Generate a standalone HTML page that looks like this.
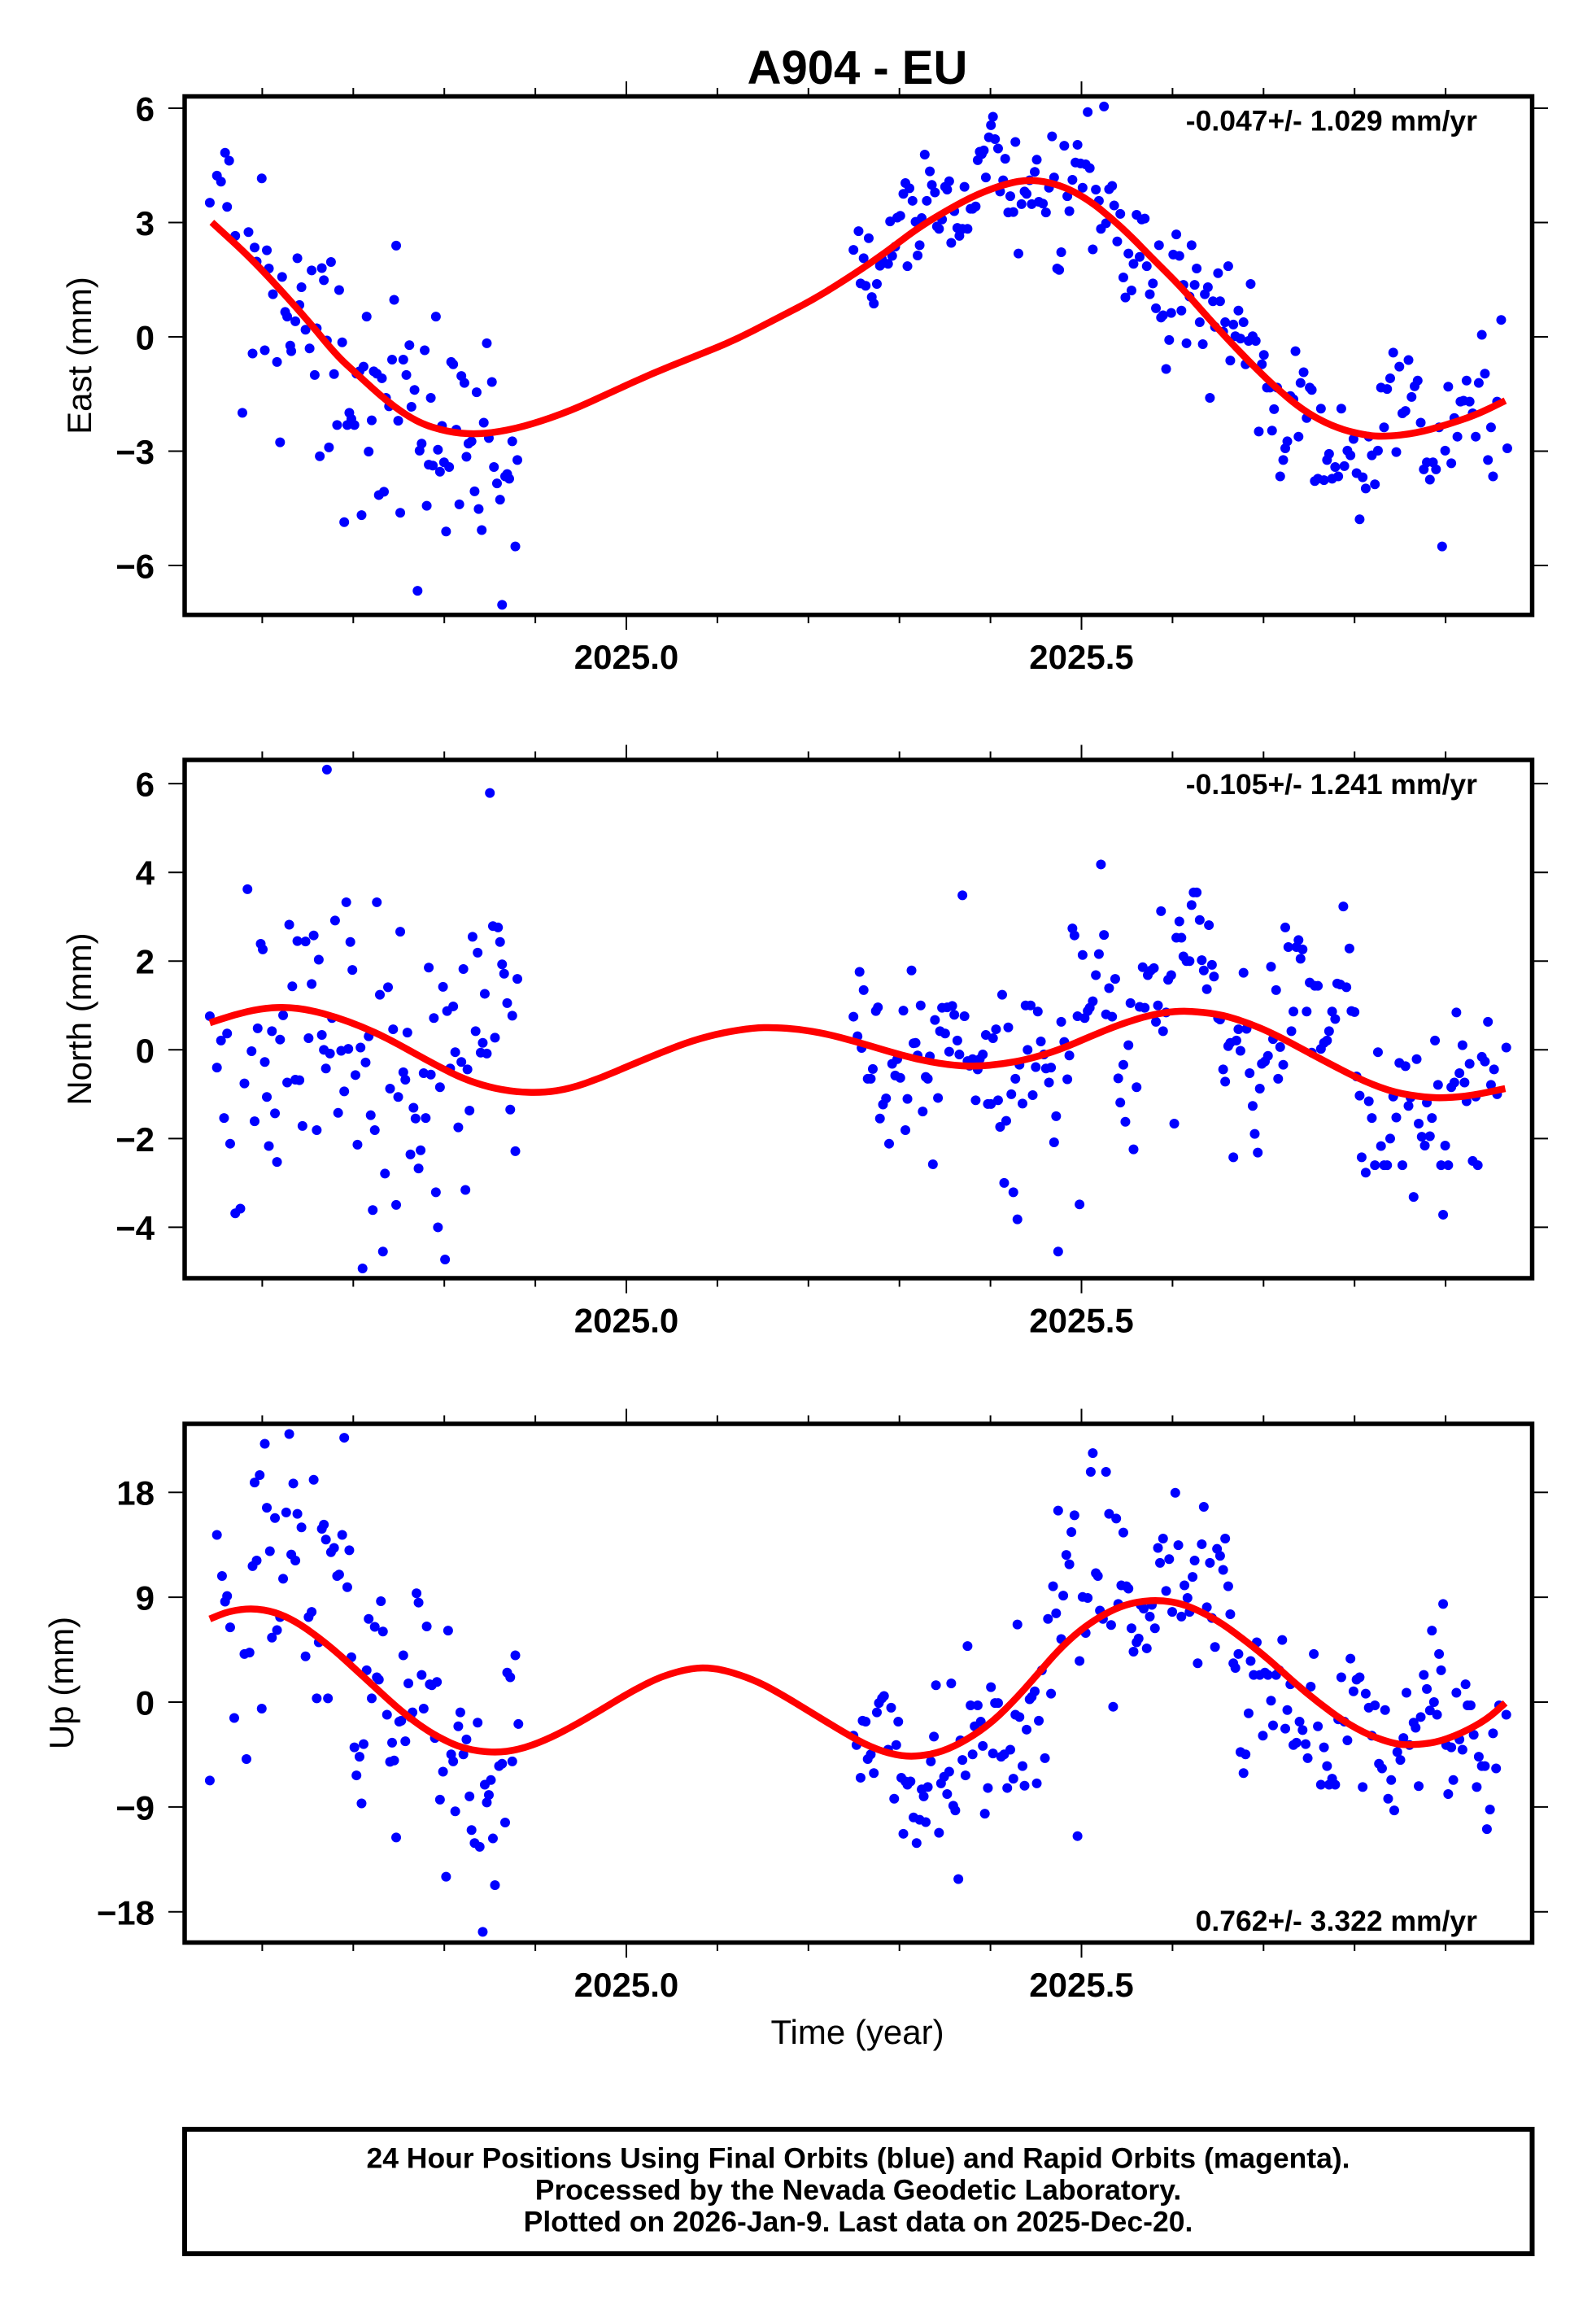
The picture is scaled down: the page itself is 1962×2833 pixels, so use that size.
<!DOCTYPE html>
<html><head><meta charset="utf-8"><style>
html,body{margin:0;padding:0;background:#fff;}
svg{display:block;}
text{font-family:"Liberation Sans",Arial,Helvetica,sans-serif;fill:#000;}
.b{font-weight:bold;}
.d ellipse{fill:#0000ff;}
.c{fill:none;stroke:#ff0000;stroke-width:8.5;stroke-linejoin:round;stroke-linecap:butt;}
</style></head><body>
<svg width="1962" height="2833" viewBox="0 0 1962 2833" xmlns="http://www.w3.org/2000/svg">
<rect width="1962" height="2833" fill="#fff"/>
<text x="1054" y="103" font-size="58" class="b" text-anchor="middle">A904 - EU</text>

<!-- PANEL 1 dots + curve -->
<g transform="matrix(1.252 0 0 0.574 0 0)" class="d">
<g>
<ellipse cx="206" cy="434" rx="4.79" ry="10.45"/><ellipse cx="213" cy="376" rx="4.79" ry="10.45"/><ellipse cx="217" cy="389" rx="4.79" ry="10.45"/><ellipse cx="221" cy="327" rx="4.79" ry="10.45"/><ellipse cx="225" cy="344" rx="4.79" ry="10.45"/><ellipse cx="223" cy="443" rx="4.79" ry="10.45"/><ellipse cx="231" cy="505" rx="4.79" ry="10.45"/><ellipse cx="238" cy="884" rx="4.79" ry="10.45"/><ellipse cx="244" cy="497" rx="4.79" ry="10.45"/><ellipse cx="248" cy="757" rx="4.79" ry="10.45"/><ellipse cx="250" cy="530" rx="4.79" ry="10.45"/><ellipse cx="252" cy="560" rx="4.79" ry="10.45"/><ellipse cx="257" cy="382" rx="4.79" ry="10.45"/><ellipse cx="260" cy="750" rx="4.79" ry="10.45"/><ellipse cx="262" cy="536" rx="4.79" ry="10.45"/><ellipse cx="264" cy="575" rx="4.79" ry="10.45"/><ellipse cx="268" cy="630" rx="4.79" ry="10.45"/><ellipse cx="272" cy="775" rx="4.79" ry="10.45"/><ellipse cx="275" cy="947" rx="4.79" ry="10.45"/><ellipse cx="277" cy="593" rx="4.79" ry="10.45"/><ellipse cx="280" cy="668" rx="4.79" ry="10.45"/><ellipse cx="282" cy="678" rx="4.79" ry="10.45"/><ellipse cx="285" cy="740" rx="4.79" ry="10.45"/><ellipse cx="286" cy="752" rx="4.79" ry="10.45"/><ellipse cx="290" cy="688" rx="4.79" ry="10.45"/><ellipse cx="292" cy="553" rx="4.79" ry="10.45"/><ellipse cx="294" cy="653" rx="4.79" ry="10.45"/><ellipse cx="296" cy="615" rx="4.79" ry="10.45"/><ellipse cx="300" cy="706" rx="4.79" ry="10.45"/><ellipse cx="304" cy="746" rx="4.79" ry="10.45"/><ellipse cx="306" cy="579" rx="4.79" ry="10.45"/><ellipse cx="309" cy="803" rx="4.79" ry="10.45"/><ellipse cx="311" cy="703" rx="4.79" ry="10.45"/><ellipse cx="314" cy="977" rx="4.79" ry="10.45"/><ellipse cx="316" cy="574" rx="4.79" ry="10.45"/><ellipse cx="318" cy="600" rx="4.79" ry="10.45"/><ellipse cx="321" cy="729" rx="4.79" ry="10.45"/><ellipse cx="323" cy="958" rx="4.79" ry="10.45"/><ellipse cx="325" cy="561" rx="4.79" ry="10.45"/><ellipse cx="328" cy="801" rx="4.79" ry="10.45"/><ellipse cx="331" cy="910" rx="4.79" ry="10.45"/><ellipse cx="333" cy="621" rx="4.79" ry="10.45"/><ellipse cx="336" cy="733" rx="4.79" ry="10.45"/><ellipse cx="338" cy="1118" rx="4.79" ry="10.45"/><ellipse cx="341" cy="910" rx="4.79" ry="10.45"/><ellipse cx="343" cy="884" rx="4.79" ry="10.45"/><ellipse cx="345" cy="897" rx="4.79" ry="10.45"/><ellipse cx="348" cy="910" rx="4.79" ry="10.45"/><ellipse cx="350" cy="800" rx="4.79" ry="10.45"/><ellipse cx="353" cy="795" rx="4.79" ry="10.45"/><ellipse cx="355" cy="1103" rx="4.79" ry="10.45"/><ellipse cx="357" cy="785" rx="4.79" ry="10.45"/><ellipse cx="360" cy="678" rx="4.79" ry="10.45"/><ellipse cx="362" cy="967" rx="4.79" ry="10.45"/><ellipse cx="365" cy="900" rx="4.79" ry="10.45"/><ellipse cx="367" cy="795" rx="4.79" ry="10.45"/><ellipse cx="370" cy="800" rx="4.79" ry="10.45"/><ellipse cx="372" cy="1060" rx="4.79" ry="10.45"/><ellipse cx="375" cy="810" rx="4.79" ry="10.45"/><ellipse cx="377" cy="1053" rx="4.79" ry="10.45"/><ellipse cx="379" cy="852" rx="4.79" ry="10.45"/><ellipse cx="382" cy="870" rx="4.79" ry="10.45"/><ellipse cx="385" cy="770" rx="4.79" ry="10.45"/><ellipse cx="387" cy="642" rx="4.79" ry="10.45"/><ellipse cx="389" cy="526" rx="4.79" ry="10.45"/><ellipse cx="391" cy="901" rx="4.79" ry="10.45"/><ellipse cx="393" cy="1098" rx="4.79" ry="10.45"/><ellipse cx="396" cy="770" rx="4.79" ry="10.45"/><ellipse cx="399" cy="803" rx="4.79" ry="10.45"/><ellipse cx="402" cy="739" rx="4.79" ry="10.45"/><ellipse cx="404" cy="871" rx="4.79" ry="10.45"/><ellipse cx="407" cy="835" rx="4.79" ry="10.45"/><ellipse cx="410" cy="1265" rx="4.79" ry="10.45"/><ellipse cx="412" cy="965" rx="4.79" ry="10.45"/><ellipse cx="414" cy="950" rx="4.79" ry="10.45"/><ellipse cx="417" cy="750" rx="4.79" ry="10.45"/><ellipse cx="419" cy="1083" rx="4.79" ry="10.45"/><ellipse cx="421" cy="995" rx="4.79" ry="10.45"/><ellipse cx="423" cy="852" rx="4.79" ry="10.45"/><ellipse cx="425" cy="997" rx="4.79" ry="10.45"/><ellipse cx="428" cy="678" rx="4.79" ry="10.45"/><ellipse cx="430" cy="963" rx="4.79" ry="10.45"/><ellipse cx="432" cy="1010" rx="4.79" ry="10.45"/><ellipse cx="434" cy="912" rx="4.79" ry="10.45"/><ellipse cx="436" cy="990" rx="4.79" ry="10.45"/><ellipse cx="438" cy="1138" rx="4.79" ry="10.45"/><ellipse cx="441" cy="1000" rx="4.79" ry="10.45"/><ellipse cx="443" cy="775" rx="4.79" ry="10.45"/><ellipse cx="445" cy="780" rx="4.79" ry="10.45"/><ellipse cx="448" cy="920" rx="4.79" ry="10.45"/><ellipse cx="451" cy="1080" rx="4.79" ry="10.45"/><ellipse cx="453" cy="805" rx="4.79" ry="10.45"/><ellipse cx="456" cy="820" rx="4.79" ry="10.45"/><ellipse cx="458" cy="978" rx="4.79" ry="10.45"/><ellipse cx="460" cy="950" rx="4.79" ry="10.45"/><ellipse cx="463" cy="945" rx="4.79" ry="10.45"/><ellipse cx="466" cy="1052" rx="4.79" ry="10.45"/><ellipse cx="468" cy="840" rx="4.79" ry="10.45"/><ellipse cx="470" cy="1090" rx="4.79" ry="10.45"/><ellipse cx="473" cy="1135" rx="4.79" ry="10.45"/><ellipse cx="475" cy="905" rx="4.79" ry="10.45"/><ellipse cx="478" cy="735" rx="4.79" ry="10.45"/><ellipse cx="480" cy="938" rx="4.79" ry="10.45"/><ellipse cx="483" cy="818" rx="4.79" ry="10.45"/><ellipse cx="485" cy="1000" rx="4.79" ry="10.45"/><ellipse cx="488" cy="1035" rx="4.79" ry="10.45"/><ellipse cx="491" cy="1070" rx="4.79" ry="10.45"/><ellipse cx="493" cy="1295" rx="4.79" ry="10.45"/><ellipse cx="496" cy="1020" rx="4.79" ry="10.45"/><ellipse cx="498" cy="1015" rx="4.79" ry="10.45"/><ellipse cx="500" cy="1025" rx="4.79" ry="10.45"/><ellipse cx="503" cy="945" rx="4.79" ry="10.45"/><ellipse cx="506" cy="1170" rx="4.79" ry="10.45"/><ellipse cx="508" cy="985" rx="4.79" ry="10.45"/>
<ellipse cx="838" cy="535" rx="4.79" ry="10.45"/><ellipse cx="843" cy="495" rx="4.79" ry="10.45"/><ellipse cx="845" cy="607" rx="4.79" ry="10.45"/><ellipse cx="848" cy="553" rx="4.79" ry="10.45"/><ellipse cx="850" cy="612" rx="4.79" ry="10.45"/><ellipse cx="853" cy="510" rx="4.79" ry="10.45"/><ellipse cx="856" cy="636" rx="4.79" ry="10.45"/><ellipse cx="858" cy="650" rx="4.79" ry="10.45"/><ellipse cx="861" cy="608" rx="4.79" ry="10.45"/><ellipse cx="864" cy="569" rx="4.79" ry="10.45"/><ellipse cx="866" cy="555" rx="4.79" ry="10.45"/><ellipse cx="868" cy="563" rx="4.79" ry="10.45"/><ellipse cx="872" cy="565" rx="4.79" ry="10.45"/><ellipse cx="874" cy="474" rx="4.79" ry="10.45"/><ellipse cx="876" cy="548" rx="4.79" ry="10.45"/><ellipse cx="879" cy="528" rx="4.79" ry="10.45"/><ellipse cx="881" cy="466" rx="4.79" ry="10.45"/><ellipse cx="884" cy="462" rx="4.79" ry="10.45"/><ellipse cx="887" cy="415" rx="4.79" ry="10.45"/><ellipse cx="889" cy="392" rx="4.79" ry="10.45"/><ellipse cx="891" cy="570" rx="4.79" ry="10.45"/><ellipse cx="893" cy="403" rx="4.79" ry="10.45"/><ellipse cx="896" cy="430" rx="4.79" ry="10.45"/><ellipse cx="899" cy="475" rx="4.79" ry="10.45"/><ellipse cx="901" cy="547" rx="4.79" ry="10.45"/><ellipse cx="903" cy="525" rx="4.79" ry="10.45"/><ellipse cx="905" cy="467" rx="4.79" ry="10.45"/><ellipse cx="908" cy="331" rx="4.79" ry="10.45"/><ellipse cx="910" cy="430" rx="4.79" ry="10.45"/><ellipse cx="913" cy="367" rx="4.79" ry="10.45"/><ellipse cx="915" cy="396" rx="4.79" ry="10.45"/><ellipse cx="918" cy="412" rx="4.79" ry="10.45"/><ellipse cx="920" cy="485" rx="4.79" ry="10.45"/><ellipse cx="922" cy="490" rx="4.79" ry="10.45"/><ellipse cx="925" cy="470" rx="4.79" ry="10.45"/><ellipse cx="928" cy="400" rx="4.79" ry="10.45"/><ellipse cx="930" cy="406" rx="4.79" ry="10.45"/><ellipse cx="932" cy="388" rx="4.79" ry="10.45"/><ellipse cx="934" cy="520" rx="4.79" ry="10.45"/><ellipse cx="937" cy="452" rx="4.79" ry="10.45"/><ellipse cx="940" cy="488" rx="4.79" ry="10.45"/><ellipse cx="942" cy="505" rx="4.79" ry="10.45"/><ellipse cx="945" cy="490" rx="4.79" ry="10.45"/><ellipse cx="947" cy="400" rx="4.79" ry="10.45"/><ellipse cx="950" cy="490" rx="4.79" ry="10.45"/><ellipse cx="953" cy="447" rx="4.79" ry="10.45"/><ellipse cx="955" cy="447" rx="4.79" ry="10.45"/><ellipse cx="958" cy="442" rx="4.79" ry="10.45"/><ellipse cx="960" cy="343" rx="4.79" ry="10.45"/><ellipse cx="962" cy="325" rx="4.79" ry="10.45"/><ellipse cx="964" cy="330" rx="4.79" ry="10.45"/><ellipse cx="966" cy="322" rx="4.79" ry="10.45"/><ellipse cx="968" cy="380" rx="4.79" ry="10.45"/><ellipse cx="971" cy="294" rx="4.79" ry="10.45"/><ellipse cx="973" cy="268" rx="4.79" ry="10.45"/><ellipse cx="975" cy="250" rx="4.79" ry="10.45"/><ellipse cx="977" cy="298" rx="4.79" ry="10.45"/><ellipse cx="980" cy="318" rx="4.79" ry="10.45"/><ellipse cx="982" cy="410" rx="4.79" ry="10.45"/><ellipse cx="985" cy="386" rx="4.79" ry="10.45"/><ellipse cx="987" cy="340" rx="4.79" ry="10.45"/><ellipse cx="990" cy="455" rx="4.79" ry="10.45"/><ellipse cx="992" cy="420" rx="4.79" ry="10.45"/><ellipse cx="995" cy="454" rx="4.79" ry="10.45"/><ellipse cx="997" cy="304" rx="4.79" ry="10.45"/><ellipse cx="1000" cy="543" rx="4.79" ry="10.45"/><ellipse cx="1003" cy="437" rx="4.79" ry="10.45"/><ellipse cx="1006" cy="410" rx="4.79" ry="10.45"/><ellipse cx="1008" cy="415" rx="4.79" ry="10.45"/><ellipse cx="1011" cy="386" rx="4.79" ry="10.45"/><ellipse cx="1013" cy="437" rx="4.79" ry="10.45"/><ellipse cx="1016" cy="368" rx="4.79" ry="10.45"/><ellipse cx="1018" cy="342" rx="4.79" ry="10.45"/><ellipse cx="1020" cy="432" rx="4.79" ry="10.45"/><ellipse cx="1024" cy="436" rx="4.79" ry="10.45"/><ellipse cx="1027" cy="455" rx="4.79" ry="10.45"/><ellipse cx="1030" cy="402" rx="4.79" ry="10.45"/><ellipse cx="1033" cy="292" rx="4.79" ry="10.45"/><ellipse cx="1035" cy="380" rx="4.79" ry="10.45"/><ellipse cx="1038" cy="575" rx="4.79" ry="10.45"/><ellipse cx="1040" cy="578" rx="4.79" ry="10.45"/><ellipse cx="1042" cy="540" rx="4.79" ry="10.45"/><ellipse cx="1045" cy="312" rx="4.79" ry="10.45"/><ellipse cx="1048" cy="420" rx="4.79" ry="10.45"/><ellipse cx="1050" cy="452" rx="4.79" ry="10.45"/><ellipse cx="1053" cy="385" rx="4.79" ry="10.45"/><ellipse cx="1056" cy="348" rx="4.79" ry="10.45"/><ellipse cx="1058" cy="310" rx="4.79" ry="10.45"/><ellipse cx="1061" cy="350" rx="4.79" ry="10.45"/><ellipse cx="1063" cy="402" rx="4.79" ry="10.45"/><ellipse cx="1066" cy="352" rx="4.79" ry="10.45"/><ellipse cx="1068" cy="240" rx="4.79" ry="10.45"/><ellipse cx="1070" cy="360" rx="4.79" ry="10.45"/><ellipse cx="1073" cy="534" rx="4.79" ry="10.45"/><ellipse cx="1076" cy="406" rx="4.79" ry="10.45"/><ellipse cx="1079" cy="430" rx="4.79" ry="10.45"/><ellipse cx="1081" cy="490" rx="4.79" ry="10.45"/><ellipse cx="1084" cy="228" rx="4.79" ry="10.45"/><ellipse cx="1086" cy="478" rx="4.79" ry="10.45"/><ellipse cx="1089" cy="405" rx="4.79" ry="10.45"/><ellipse cx="1092" cy="398" rx="4.79" ry="10.45"/><ellipse cx="1094" cy="440" rx="4.79" ry="10.45"/><ellipse cx="1097" cy="517" rx="4.79" ry="10.45"/><ellipse cx="1100" cy="458" rx="4.79" ry="10.45"/><ellipse cx="1103" cy="594" rx="4.79" ry="10.45"/><ellipse cx="1105" cy="637" rx="4.79" ry="10.45"/><ellipse cx="1108" cy="543" rx="4.79" ry="10.45"/><ellipse cx="1111" cy="622" rx="4.79" ry="10.45"/><ellipse cx="1113" cy="565" rx="4.79" ry="10.45"/><ellipse cx="1116" cy="460" rx="4.79" ry="10.45"/><ellipse cx="1119" cy="550" rx="4.79" ry="10.45"/><ellipse cx="1121" cy="470" rx="4.79" ry="10.45"/><ellipse cx="1124" cy="468" rx="4.79" ry="10.45"/><ellipse cx="1126" cy="570" rx="4.79" ry="10.45"/><ellipse cx="1129" cy="630" rx="4.79" ry="10.45"/><ellipse cx="1132" cy="607" rx="4.79" ry="10.45"/><ellipse cx="1135" cy="660" rx="4.79" ry="10.45"/><ellipse cx="1138" cy="525" rx="4.79" ry="10.45"/><ellipse cx="1140" cy="680" rx="4.79" ry="10.45"/><ellipse cx="1142" cy="675" rx="4.79" ry="10.45"/><ellipse cx="1145" cy="790" rx="4.79" ry="10.45"/><ellipse cx="1148" cy="728" rx="4.79" ry="10.45"/><ellipse cx="1150" cy="670" rx="4.79" ry="10.45"/><ellipse cx="1152" cy="545" rx="4.79" ry="10.45"/><ellipse cx="1155" cy="502" rx="4.79" ry="10.45"/><ellipse cx="1158" cy="548" rx="4.79" ry="10.45"/><ellipse cx="1160" cy="665" rx="4.79" ry="10.45"/><ellipse cx="1162" cy="610" rx="4.79" ry="10.45"/><ellipse cx="1165" cy="735" rx="4.79" ry="10.45"/><ellipse cx="1168" cy="635" rx="4.79" ry="10.45"/><ellipse cx="1170" cy="525" rx="4.79" ry="10.45"/><ellipse cx="1173" cy="610" rx="4.79" ry="10.45"/><ellipse cx="1175" cy="575" rx="4.79" ry="10.45"/><ellipse cx="1178" cy="690" rx="4.79" ry="10.45"/><ellipse cx="1181" cy="737" rx="4.79" ry="10.45"/><ellipse cx="1183" cy="630" rx="4.79" ry="10.45"/><ellipse cx="1186" cy="615" rx="4.79" ry="10.45"/><ellipse cx="1188" cy="852" rx="4.79" ry="10.45"/><ellipse cx="1191" cy="645" rx="4.79" ry="10.45"/><ellipse cx="1193" cy="700" rx="4.79" ry="10.45"/><ellipse cx="1196" cy="585" rx="4.79" ry="10.45"/><ellipse cx="1198" cy="645" rx="4.79" ry="10.45"/><ellipse cx="1201" cy="710" rx="4.79" ry="10.45"/><ellipse cx="1203" cy="690" rx="4.79" ry="10.45"/><ellipse cx="1206" cy="570" rx="4.79" ry="10.45"/><ellipse cx="1208" cy="772" rx="4.79" ry="10.45"/><ellipse cx="1211" cy="695" rx="4.79" ry="10.45"/><ellipse cx="1213" cy="720" rx="4.79" ry="10.45"/><ellipse cx="1216" cy="665" rx="4.79" ry="10.45"/><ellipse cx="1218" cy="725" rx="4.79" ry="10.45"/><ellipse cx="1221" cy="690" rx="4.79" ry="10.45"/><ellipse cx="1223" cy="780" rx="4.79" ry="10.45"/><ellipse cx="1226" cy="730" rx="4.79" ry="10.45"/><ellipse cx="1228" cy="608" rx="4.79" ry="10.45"/><ellipse cx="1230" cy="720" rx="4.79" ry="10.45"/><ellipse cx="1233" cy="730" rx="4.79" ry="10.45"/><ellipse cx="1236" cy="924" rx="4.79" ry="10.45"/><ellipse cx="1239" cy="780" rx="4.79" ry="10.45"/><ellipse cx="1241" cy="760" rx="4.79" ry="10.45"/><ellipse cx="1244" cy="830" rx="4.79" ry="10.45"/><ellipse cx="1247" cy="830" rx="4.79" ry="10.45"/><ellipse cx="1249" cy="922" rx="4.79" ry="10.45"/><ellipse cx="1251" cy="876" rx="4.79" ry="10.45"/><ellipse cx="1254" cy="830" rx="4.79" ry="10.45"/><ellipse cx="1257" cy="1020" rx="4.79" ry="10.45"/><ellipse cx="1260" cy="985" rx="4.79" ry="10.45"/><ellipse cx="1262" cy="960" rx="4.79" ry="10.45"/><ellipse cx="1264" cy="945" rx="4.79" ry="10.45"/><ellipse cx="1267" cy="848" rx="4.79" ry="10.45"/><ellipse cx="1270" cy="855" rx="4.79" ry="10.45"/><ellipse cx="1272" cy="752" rx="4.79" ry="10.45"/><ellipse cx="1275" cy="935" rx="4.79" ry="10.45"/><ellipse cx="1277" cy="820" rx="4.79" ry="10.45"/><ellipse cx="1280" cy="797" rx="4.79" ry="10.45"/><ellipse cx="1283" cy="895" rx="4.79" ry="10.45"/><ellipse cx="1286" cy="830" rx="4.79" ry="10.45"/><ellipse cx="1288" cy="835" rx="4.79" ry="10.45"/><ellipse cx="1291" cy="1030" rx="4.79" ry="10.45"/><ellipse cx="1294" cy="1025" rx="4.79" ry="10.45"/><ellipse cx="1297" cy="875" rx="4.79" ry="10.45"/><ellipse cx="1300" cy="1028" rx="4.79" ry="10.45"/><ellipse cx="1303" cy="985" rx="4.79" ry="10.45"/><ellipse cx="1305" cy="972" rx="4.79" ry="10.45"/><ellipse cx="1308" cy="1025" rx="4.79" ry="10.45"/><ellipse cx="1311" cy="1000" rx="4.79" ry="10.45"/><ellipse cx="1314" cy="1020" rx="4.79" ry="10.45"/><ellipse cx="1317" cy="875" rx="4.79" ry="10.45"/><ellipse cx="1320" cy="998" rx="4.79" ry="10.45"/><ellipse cx="1323" cy="965" rx="4.79" ry="10.45"/><ellipse cx="1326" cy="975" rx="4.79" ry="10.45"/><ellipse cx="1329" cy="940" rx="4.79" ry="10.45"/><ellipse cx="1332" cy="1013" rx="4.79" ry="10.45"/><ellipse cx="1335" cy="1112" rx="4.79" ry="10.45"/><ellipse cx="1338" cy="1022" rx="4.79" ry="10.45"/><ellipse cx="1341" cy="1046" rx="4.79" ry="10.45"/><ellipse cx="1344" cy="935" rx="4.79" ry="10.45"/><ellipse cx="1347" cy="975" rx="4.79" ry="10.45"/><ellipse cx="1350" cy="1037" rx="4.79" ry="10.45"/><ellipse cx="1353" cy="965" rx="4.79" ry="10.45"/><ellipse cx="1356" cy="830" rx="4.79" ry="10.45"/><ellipse cx="1359" cy="915" rx="4.79" ry="10.45"/><ellipse cx="1362" cy="833" rx="4.79" ry="10.45"/><ellipse cx="1365" cy="810" rx="4.79" ry="10.45"/><ellipse cx="1368" cy="755" rx="4.79" ry="10.45"/><ellipse cx="1371" cy="968" rx="4.79" ry="10.45"/><ellipse cx="1374" cy="785" rx="4.79" ry="10.45"/><ellipse cx="1377" cy="885" rx="4.79" ry="10.45"/><ellipse cx="1380" cy="880" rx="4.79" ry="10.45"/><ellipse cx="1383" cy="771" rx="4.79" ry="10.45"/><ellipse cx="1386" cy="850" rx="4.79" ry="10.45"/><ellipse cx="1389" cy="827" rx="4.79" ry="10.45"/><ellipse cx="1392" cy="815" rx="4.79" ry="10.45"/><ellipse cx="1395" cy="905" rx="4.79" ry="10.45"/><ellipse cx="1398" cy="1005" rx="4.79" ry="10.45"/><ellipse cx="1401" cy="990" rx="4.79" ry="10.45"/><ellipse cx="1404" cy="1027" rx="4.79" ry="10.45"/><ellipse cx="1407" cy="990" rx="4.79" ry="10.45"/><ellipse cx="1410" cy="1005" rx="4.79" ry="10.45"/><ellipse cx="1413" cy="915" rx="4.79" ry="10.45"/><ellipse cx="1416" cy="1170" rx="4.79" ry="10.45"/><ellipse cx="1419" cy="965" rx="4.79" ry="10.45"/><ellipse cx="1422" cy="828" rx="4.79" ry="10.45"/><ellipse cx="1425" cy="992" rx="4.79" ry="10.45"/><ellipse cx="1428" cy="895" rx="4.79" ry="10.45"/><ellipse cx="1431" cy="935" rx="4.79" ry="10.45"/><ellipse cx="1434" cy="860" rx="4.79" ry="10.45"/><ellipse cx="1437" cy="858" rx="4.79" ry="10.45"/><ellipse cx="1440" cy="815" rx="4.79" ry="10.45"/><ellipse cx="1443" cy="860" rx="4.79" ry="10.45"/><ellipse cx="1446" cy="885" rx="4.79" ry="10.45"/><ellipse cx="1449" cy="935" rx="4.79" ry="10.45"/><ellipse cx="1452" cy="820" rx="4.79" ry="10.45"/><ellipse cx="1455" cy="717" rx="4.79" ry="10.45"/><ellipse cx="1458" cy="800" rx="4.79" ry="10.45"/><ellipse cx="1461" cy="985" rx="4.79" ry="10.45"/><ellipse cx="1464" cy="915" rx="4.79" ry="10.45"/><ellipse cx="1466" cy="1020" rx="4.79" ry="10.45"/><ellipse cx="1470" cy="860" rx="4.79" ry="10.45"/><ellipse cx="1474" cy="685" rx="4.79" ry="10.45"/><ellipse cx="1480" cy="960" rx="4.79" ry="10.45"/>
</g>
<path class="c" vector-effect="non-scaling-stroke" d="M208,476 L229,518 Q250,560 275,620 Q300,680 315,720 Q330,760 340,780 Q350,800 365,830 Q380,860 395,882.5 Q410,905 425,915 Q440,925 452.5,927.5 Q465,930 477.5,927.5 Q490,925 505,917.5 Q520,910 540,895 Q560,880 580,860 Q600,840 620,820 Q640,800 660,782.5 Q680,765 700,747.5 Q720,730 740,707.5 Q760,685 780,662.5 Q800,640 820,612.5 Q840,585 855,562.5 Q870,540 885,515 Q900,490 915,470 Q930,450 945,432.5 Q960,415 975,403.5 Q990,392 1000,388.5 Q1010,385 1020,387.5 Q1030,390 1040,397.5 Q1050,405 1060,417.5 Q1070,430 1080,447.5 Q1090,465 1100,485 Q1110,505 1120,527.5 Q1130,550 1145,582.5 Q1160,615 1175,652.5 Q1190,690 1205,725 Q1220,760 1235,792.5 Q1250,825 1265,852.5 Q1280,880 1295,897.5 Q1310,915 1325,923.5 Q1340,932 1350,933.5 Q1360,935 1375,931.5 Q1390,928 1405,919 Q1420,910 1435,899 Q1450,888 1464,873 L1478,858"/>
</g>

<!-- PANEL 2 dots + curve -->
<g transform="matrix(1.252 0 0 0.574 0 900)" class="d">
<g>
<ellipse cx="206" cy="608" rx="4.79" ry="10.45"/><ellipse cx="213" cy="718" rx="4.79" ry="10.45"/><ellipse cx="217" cy="660" rx="4.79" ry="10.45"/><ellipse cx="220" cy="826" rx="4.79" ry="10.45"/><ellipse cx="223" cy="645" rx="4.79" ry="10.45"/><ellipse cx="226" cy="881" rx="4.79" ry="10.45"/><ellipse cx="231" cy="1030" rx="4.79" ry="10.45"/><ellipse cx="236" cy="1020" rx="4.79" ry="10.45"/><ellipse cx="240" cy="752" rx="4.79" ry="10.45"/><ellipse cx="243" cy="336" rx="4.79" ry="10.45"/><ellipse cx="247" cy="683" rx="4.79" ry="10.45"/><ellipse cx="250" cy="833" rx="4.79" ry="10.45"/><ellipse cx="253" cy="634" rx="4.79" ry="10.45"/><ellipse cx="256" cy="453" rx="4.79" ry="10.45"/><ellipse cx="258" cy="465" rx="4.79" ry="10.45"/><ellipse cx="260" cy="706" rx="4.79" ry="10.45"/><ellipse cx="262" cy="781" rx="4.79" ry="10.45"/><ellipse cx="264" cy="886" rx="4.79" ry="10.45"/><ellipse cx="267" cy="640" rx="4.79" ry="10.45"/><ellipse cx="270" cy="816" rx="4.79" ry="10.45"/><ellipse cx="272" cy="920" rx="4.79" ry="10.45"/><ellipse cx="275" cy="658" rx="4.79" ry="10.45"/><ellipse cx="278" cy="606" rx="4.79" ry="10.45"/><ellipse cx="282" cy="750" rx="4.79" ry="10.45"/><ellipse cx="284" cy="412" rx="4.79" ry="10.45"/><ellipse cx="287" cy="544" rx="4.79" ry="10.45"/><ellipse cx="290" cy="744" rx="4.79" ry="10.45"/><ellipse cx="292" cy="447" rx="4.79" ry="10.45"/><ellipse cx="294" cy="745" rx="4.79" ry="10.45"/><ellipse cx="297" cy="843" rx="4.79" ry="10.45"/><ellipse cx="300" cy="448" rx="4.79" ry="10.45"/><ellipse cx="303" cy="655" rx="4.79" ry="10.45"/><ellipse cx="306" cy="539" rx="4.79" ry="10.45"/><ellipse cx="308" cy="435" rx="4.79" ry="10.45"/><ellipse cx="311" cy="852" rx="4.79" ry="10.45"/><ellipse cx="313" cy="487" rx="4.79" ry="10.45"/><ellipse cx="316" cy="648" rx="4.79" ry="10.45"/><ellipse cx="318" cy="680" rx="4.79" ry="10.45"/><ellipse cx="320" cy="720" rx="4.79" ry="10.45"/><ellipse cx="321" cy="80" rx="4.79" ry="10.45"/><ellipse cx="324" cy="688" rx="4.79" ry="10.45"/><ellipse cx="326" cy="612" rx="4.79" ry="10.45"/><ellipse cx="329" cy="403" rx="4.79" ry="10.45"/><ellipse cx="332" cy="815" rx="4.79" ry="10.45"/><ellipse cx="335" cy="682" rx="4.79" ry="10.45"/><ellipse cx="338" cy="769" rx="4.79" ry="10.45"/><ellipse cx="340" cy="364" rx="4.79" ry="10.45"/><ellipse cx="342" cy="678" rx="4.79" ry="10.45"/><ellipse cx="344" cy="449" rx="4.79" ry="10.45"/><ellipse cx="346" cy="509" rx="4.79" ry="10.45"/><ellipse cx="349" cy="734" rx="4.79" ry="10.45"/><ellipse cx="351" cy="883" rx="4.79" ry="10.45"/><ellipse cx="354" cy="675" rx="4.79" ry="10.45"/><ellipse cx="356" cy="1148" rx="4.79" ry="10.45"/><ellipse cx="359" cy="707" rx="4.79" ry="10.45"/><ellipse cx="362" cy="651" rx="4.79" ry="10.45"/><ellipse cx="364" cy="820" rx="4.79" ry="10.45"/><ellipse cx="366" cy="1023" rx="4.79" ry="10.45"/><ellipse cx="368" cy="852" rx="4.79" ry="10.45"/><ellipse cx="370" cy="364" rx="4.79" ry="10.45"/><ellipse cx="373" cy="562" rx="4.79" ry="10.45"/><ellipse cx="376" cy="1112" rx="4.79" ry="10.45"/><ellipse cx="378" cy="945" rx="4.79" ry="10.45"/><ellipse cx="381" cy="546" rx="4.79" ry="10.45"/><ellipse cx="383" cy="763" rx="4.79" ry="10.45"/><ellipse cx="386" cy="636" rx="4.79" ry="10.45"/><ellipse cx="389" cy="1012" rx="4.79" ry="10.45"/><ellipse cx="391" cy="781" rx="4.79" ry="10.45"/><ellipse cx="393" cy="427" rx="4.79" ry="10.45"/><ellipse cx="396" cy="728" rx="4.79" ry="10.45"/><ellipse cx="398" cy="744" rx="4.79" ry="10.45"/><ellipse cx="400" cy="643" rx="4.79" ry="10.45"/><ellipse cx="403" cy="904" rx="4.79" ry="10.45"/><ellipse cx="406" cy="804" rx="4.79" ry="10.45"/><ellipse cx="408" cy="827" rx="4.79" ry="10.45"/><ellipse cx="411" cy="934" rx="4.79" ry="10.45"/><ellipse cx="413" cy="895" rx="4.79" ry="10.45"/><ellipse cx="416" cy="730" rx="4.79" ry="10.45"/><ellipse cx="418" cy="826" rx="4.79" ry="10.45"/><ellipse cx="421" cy="504" rx="4.79" ry="10.45"/><ellipse cx="423" cy="733" rx="4.79" ry="10.45"/><ellipse cx="426" cy="612" rx="4.79" ry="10.45"/><ellipse cx="428" cy="985" rx="4.79" ry="10.45"/><ellipse cx="430" cy="1060" rx="4.79" ry="10.45"/><ellipse cx="432" cy="760" rx="4.79" ry="10.45"/><ellipse cx="435" cy="545" rx="4.79" ry="10.45"/><ellipse cx="437" cy="1129" rx="4.79" ry="10.45"/><ellipse cx="439" cy="597" rx="4.79" ry="10.45"/><ellipse cx="442" cy="720" rx="4.79" ry="10.45"/><ellipse cx="445" cy="587" rx="4.79" ry="10.45"/><ellipse cx="447" cy="685" rx="4.79" ry="10.45"/><ellipse cx="450" cy="846" rx="4.79" ry="10.45"/><ellipse cx="453" cy="706" rx="4.79" ry="10.45"/><ellipse cx="455" cy="507" rx="4.79" ry="10.45"/><ellipse cx="457" cy="980" rx="4.79" ry="10.45"/><ellipse cx="459" cy="722" rx="4.79" ry="10.45"/><ellipse cx="461" cy="810" rx="4.79" ry="10.45"/><ellipse cx="464" cy="438" rx="4.79" ry="10.45"/><ellipse cx="467" cy="640" rx="4.79" ry="10.45"/><ellipse cx="469" cy="472" rx="4.79" ry="10.45"/><ellipse cx="472" cy="686" rx="4.79" ry="10.45"/><ellipse cx="474" cy="665" rx="4.79" ry="10.45"/><ellipse cx="476" cy="560" rx="4.79" ry="10.45"/><ellipse cx="478" cy="688" rx="4.79" ry="10.45"/><ellipse cx="481" cy="130" rx="4.79" ry="10.45"/><ellipse cx="484" cy="415" rx="4.79" ry="10.45"/><ellipse cx="486" cy="654" rx="4.79" ry="10.45"/><ellipse cx="489" cy="418" rx="4.79" ry="10.45"/><ellipse cx="491" cy="449" rx="4.79" ry="10.45"/><ellipse cx="493" cy="497" rx="4.79" ry="10.45"/><ellipse cx="495" cy="517" rx="4.79" ry="10.45"/><ellipse cx="498" cy="580" rx="4.79" ry="10.45"/><ellipse cx="501" cy="808" rx="4.79" ry="10.45"/><ellipse cx="503" cy="607" rx="4.79" ry="10.45"/><ellipse cx="506" cy="897" rx="4.79" ry="10.45"/><ellipse cx="508" cy="528" rx="4.79" ry="10.45"/>
<ellipse cx="838" cy="609" rx="4.79" ry="10.45"/><ellipse cx="842" cy="651" rx="4.79" ry="10.45"/><ellipse cx="844" cy="513" rx="4.79" ry="10.45"/><ellipse cx="846" cy="676" rx="4.79" ry="10.45"/><ellipse cx="848" cy="552" rx="4.79" ry="10.45"/><ellipse cx="852" cy="742" rx="4.79" ry="10.45"/><ellipse cx="855" cy="742" rx="4.79" ry="10.45"/><ellipse cx="857" cy="721" rx="4.79" ry="10.45"/><ellipse cx="860" cy="597" rx="4.79" ry="10.45"/><ellipse cx="862" cy="589" rx="4.79" ry="10.45"/><ellipse cx="864" cy="827" rx="4.79" ry="10.45"/><ellipse cx="867" cy="797" rx="4.79" ry="10.45"/><ellipse cx="870" cy="784" rx="4.79" ry="10.45"/><ellipse cx="873" cy="881" rx="4.79" ry="10.45"/><ellipse cx="876" cy="710" rx="4.79" ry="10.45"/><ellipse cx="879" cy="735" rx="4.79" ry="10.45"/><ellipse cx="881" cy="700" rx="4.79" ry="10.45"/><ellipse cx="884" cy="740" rx="4.79" ry="10.45"/><ellipse cx="887" cy="596" rx="4.79" ry="10.45"/><ellipse cx="889" cy="852" rx="4.79" ry="10.45"/><ellipse cx="891" cy="785" rx="4.79" ry="10.45"/><ellipse cx="895" cy="510" rx="4.79" ry="10.45"/><ellipse cx="897" cy="666" rx="4.79" ry="10.45"/><ellipse cx="899" cy="665" rx="4.79" ry="10.45"/><ellipse cx="901" cy="692" rx="4.79" ry="10.45"/><ellipse cx="904" cy="585" rx="4.79" ry="10.45"/><ellipse cx="906" cy="812" rx="4.79" ry="10.45"/><ellipse cx="909" cy="738" rx="4.79" ry="10.45"/><ellipse cx="911" cy="742" rx="4.79" ry="10.45"/><ellipse cx="913" cy="694" rx="4.79" ry="10.45"/><ellipse cx="916" cy="925" rx="4.79" ry="10.45"/><ellipse cx="918" cy="616" rx="4.79" ry="10.45"/><ellipse cx="921" cy="783" rx="4.79" ry="10.45"/><ellipse cx="923" cy="640" rx="4.79" ry="10.45"/><ellipse cx="925" cy="590" rx="4.79" ry="10.45"/><ellipse cx="928" cy="645" rx="4.79" ry="10.45"/><ellipse cx="930" cy="589" rx="4.79" ry="10.45"/><ellipse cx="932" cy="684" rx="4.79" ry="10.45"/><ellipse cx="935" cy="586" rx="4.79" ry="10.45"/><ellipse cx="937" cy="605" rx="4.79" ry="10.45"/><ellipse cx="940" cy="660" rx="4.79" ry="10.45"/><ellipse cx="942" cy="690" rx="4.79" ry="10.45"/><ellipse cx="945" cy="349" rx="4.79" ry="10.45"/><ellipse cx="947" cy="608" rx="4.79" ry="10.45"/><ellipse cx="950" cy="704" rx="4.79" ry="10.45"/><ellipse cx="952" cy="714" rx="4.79" ry="10.45"/><ellipse cx="955" cy="700" rx="4.79" ry="10.45"/><ellipse cx="958" cy="788" rx="4.79" ry="10.45"/><ellipse cx="960" cy="722" rx="4.79" ry="10.45"/><ellipse cx="962" cy="700" rx="4.79" ry="10.45"/><ellipse cx="965" cy="690" rx="4.79" ry="10.45"/><ellipse cx="968" cy="648" rx="4.79" ry="10.45"/><ellipse cx="970" cy="796" rx="4.79" ry="10.45"/><ellipse cx="973" cy="796" rx="4.79" ry="10.45"/><ellipse cx="975" cy="655" rx="4.79" ry="10.45"/><ellipse cx="978" cy="636" rx="4.79" ry="10.45"/><ellipse cx="980" cy="788" rx="4.79" ry="10.45"/><ellipse cx="982" cy="845" rx="4.79" ry="10.45"/><ellipse cx="984" cy="562" rx="4.79" ry="10.45"/><ellipse cx="986" cy="965" rx="4.79" ry="10.45"/><ellipse cx="988" cy="832" rx="4.79" ry="10.45"/><ellipse cx="990" cy="632" rx="4.79" ry="10.45"/><ellipse cx="993" cy="775" rx="4.79" ry="10.45"/><ellipse cx="995" cy="985" rx="4.79" ry="10.45"/><ellipse cx="997" cy="742" rx="4.79" ry="10.45"/><ellipse cx="999" cy="1043" rx="4.79" ry="10.45"/><ellipse cx="1001" cy="712" rx="4.79" ry="10.45"/><ellipse cx="1004" cy="795" rx="4.79" ry="10.45"/><ellipse cx="1007" cy="585" rx="4.79" ry="10.45"/><ellipse cx="1009" cy="680" rx="4.79" ry="10.45"/><ellipse cx="1012" cy="585" rx="4.79" ry="10.45"/><ellipse cx="1014" cy="777" rx="4.79" ry="10.45"/><ellipse cx="1017" cy="717" rx="4.79" ry="10.45"/><ellipse cx="1019" cy="598" rx="4.79" ry="10.45"/><ellipse cx="1022" cy="662" rx="4.79" ry="10.45"/><ellipse cx="1025" cy="690" rx="4.79" ry="10.45"/><ellipse cx="1027" cy="720" rx="4.79" ry="10.45"/><ellipse cx="1030" cy="750" rx="4.79" ry="10.45"/><ellipse cx="1032" cy="718" rx="4.79" ry="10.45"/><ellipse cx="1035" cy="878" rx="4.79" ry="10.45"/><ellipse cx="1037" cy="822" rx="4.79" ry="10.45"/><ellipse cx="1039" cy="1112" rx="4.79" ry="10.45"/><ellipse cx="1042" cy="620" rx="4.79" ry="10.45"/><ellipse cx="1045" cy="663" rx="4.79" ry="10.45"/><ellipse cx="1048" cy="743" rx="4.79" ry="10.45"/><ellipse cx="1050" cy="692" rx="4.79" ry="10.45"/><ellipse cx="1053" cy="420" rx="4.79" ry="10.45"/><ellipse cx="1055" cy="435" rx="4.79" ry="10.45"/><ellipse cx="1058" cy="608" rx="4.79" ry="10.45"/><ellipse cx="1060" cy="1011" rx="4.79" ry="10.45"/><ellipse cx="1063" cy="477" rx="4.79" ry="10.45"/><ellipse cx="1065" cy="612" rx="4.79" ry="10.45"/><ellipse cx="1068" cy="597" rx="4.79" ry="10.45"/><ellipse cx="1070" cy="590" rx="4.79" ry="10.45"/><ellipse cx="1073" cy="576" rx="4.79" ry="10.45"/><ellipse cx="1076" cy="520" rx="4.79" ry="10.45"/><ellipse cx="1079" cy="475" rx="4.79" ry="10.45"/><ellipse cx="1081" cy="283" rx="4.79" ry="10.45"/><ellipse cx="1084" cy="434" rx="4.79" ry="10.45"/><ellipse cx="1086" cy="604" rx="4.79" ry="10.45"/><ellipse cx="1089" cy="548" rx="4.79" ry="10.45"/><ellipse cx="1092" cy="609" rx="4.79" ry="10.45"/><ellipse cx="1095" cy="528" rx="4.79" ry="10.45"/><ellipse cx="1098" cy="741" rx="4.79" ry="10.45"/><ellipse cx="1100" cy="793" rx="4.79" ry="10.45"/><ellipse cx="1103" cy="712" rx="4.79" ry="10.45"/><ellipse cx="1105" cy="834" rx="4.79" ry="10.45"/><ellipse cx="1108" cy="670" rx="4.79" ry="10.45"/><ellipse cx="1110" cy="580" rx="4.79" ry="10.45"/><ellipse cx="1113" cy="893" rx="4.79" ry="10.45"/><ellipse cx="1116" cy="760" rx="4.79" ry="10.45"/><ellipse cx="1119" cy="588" rx="4.79" ry="10.45"/><ellipse cx="1122" cy="503" rx="4.79" ry="10.45"/><ellipse cx="1124" cy="590" rx="4.79" ry="10.45"/><ellipse cx="1127" cy="520" rx="4.79" ry="10.45"/><ellipse cx="1130" cy="510" rx="4.79" ry="10.45"/><ellipse cx="1133" cy="505" rx="4.79" ry="10.45"/><ellipse cx="1135" cy="620" rx="4.79" ry="10.45"/><ellipse cx="1137" cy="585" rx="4.79" ry="10.45"/><ellipse cx="1140" cy="383" rx="4.79" ry="10.45"/><ellipse cx="1142" cy="640" rx="4.79" ry="10.45"/><ellipse cx="1145" cy="600" rx="4.79" ry="10.45"/><ellipse cx="1147" cy="530" rx="4.79" ry="10.45"/><ellipse cx="1150" cy="520" rx="4.79" ry="10.45"/><ellipse cx="1153" cy="838" rx="4.79" ry="10.45"/><ellipse cx="1155" cy="440" rx="4.79" ry="10.45"/><ellipse cx="1158" cy="405" rx="4.79" ry="10.45"/><ellipse cx="1160" cy="440" rx="4.79" ry="10.45"/><ellipse cx="1162" cy="480" rx="4.79" ry="10.45"/><ellipse cx="1165" cy="490" rx="4.79" ry="10.45"/><ellipse cx="1168" cy="490" rx="4.79" ry="10.45"/><ellipse cx="1170" cy="370" rx="4.79" ry="10.45"/><ellipse cx="1172" cy="343" rx="4.79" ry="10.45"/><ellipse cx="1175" cy="343" rx="4.79" ry="10.45"/><ellipse cx="1178" cy="402" rx="4.79" ry="10.45"/><ellipse cx="1180" cy="488" rx="4.79" ry="10.45"/><ellipse cx="1182" cy="510" rx="4.79" ry="10.45"/><ellipse cx="1185" cy="550" rx="4.79" ry="10.45"/><ellipse cx="1187" cy="413" rx="4.79" ry="10.45"/><ellipse cx="1190" cy="498" rx="4.79" ry="10.45"/><ellipse cx="1192" cy="523" rx="4.79" ry="10.45"/><ellipse cx="1196" cy="612" rx="4.79" ry="10.45"/><ellipse cx="1198" cy="615" rx="4.79" ry="10.45"/><ellipse cx="1201" cy="722" rx="4.79" ry="10.45"/><ellipse cx="1203" cy="748" rx="4.79" ry="10.45"/><ellipse cx="1206" cy="672" rx="4.79" ry="10.45"/><ellipse cx="1208" cy="665" rx="4.79" ry="10.45"/><ellipse cx="1211" cy="910" rx="4.79" ry="10.45"/><ellipse cx="1214" cy="660" rx="4.79" ry="10.45"/><ellipse cx="1216" cy="636" rx="4.79" ry="10.45"/><ellipse cx="1218" cy="682" rx="4.79" ry="10.45"/><ellipse cx="1221" cy="515" rx="4.79" ry="10.45"/><ellipse cx="1224" cy="635" rx="4.79" ry="10.45"/><ellipse cx="1227" cy="730" rx="4.79" ry="10.45"/><ellipse cx="1230" cy="800" rx="4.79" ry="10.45"/><ellipse cx="1232" cy="860" rx="4.79" ry="10.45"/><ellipse cx="1235" cy="900" rx="4.79" ry="10.45"/><ellipse cx="1237" cy="763" rx="4.79" ry="10.45"/><ellipse cx="1239" cy="710" rx="4.79" ry="10.45"/><ellipse cx="1242" cy="705" rx="4.79" ry="10.45"/><ellipse cx="1245" cy="693" rx="4.79" ry="10.45"/><ellipse cx="1248" cy="502" rx="4.79" ry="10.45"/><ellipse cx="1250" cy="657" rx="4.79" ry="10.45"/><ellipse cx="1253" cy="552" rx="4.79" ry="10.45"/><ellipse cx="1255" cy="742" rx="4.79" ry="10.45"/><ellipse cx="1257" cy="674" rx="4.79" ry="10.45"/><ellipse cx="1260" cy="712" rx="4.79" ry="10.45"/><ellipse cx="1262" cy="418" rx="4.79" ry="10.45"/><ellipse cx="1265" cy="460" rx="4.79" ry="10.45"/><ellipse cx="1268" cy="640" rx="4.79" ry="10.45"/><ellipse cx="1270" cy="598" rx="4.79" ry="10.45"/><ellipse cx="1273" cy="460" rx="4.79" ry="10.45"/><ellipse cx="1275" cy="445" rx="4.79" ry="10.45"/><ellipse cx="1277" cy="485" rx="4.79" ry="10.45"/><ellipse cx="1279" cy="465" rx="4.79" ry="10.45"/><ellipse cx="1283" cy="598" rx="4.79" ry="10.45"/><ellipse cx="1286" cy="536" rx="4.79" ry="10.45"/><ellipse cx="1288" cy="686" rx="4.79" ry="10.45"/><ellipse cx="1291" cy="543" rx="4.79" ry="10.45"/><ellipse cx="1294" cy="543" rx="4.79" ry="10.45"/><ellipse cx="1297" cy="678" rx="4.79" ry="10.45"/><ellipse cx="1300" cy="665" rx="4.79" ry="10.45"/><ellipse cx="1303" cy="660" rx="4.79" ry="10.45"/><ellipse cx="1305" cy="640" rx="4.79" ry="10.45"/><ellipse cx="1308" cy="598" rx="4.79" ry="10.45"/><ellipse cx="1311" cy="614" rx="4.79" ry="10.45"/><ellipse cx="1313" cy="538" rx="4.79" ry="10.45"/><ellipse cx="1316" cy="540" rx="4.79" ry="10.45"/><ellipse cx="1319" cy="373" rx="4.79" ry="10.45"/><ellipse cx="1322" cy="546" rx="4.79" ry="10.45"/><ellipse cx="1325" cy="463" rx="4.79" ry="10.45"/><ellipse cx="1327" cy="597" rx="4.79" ry="10.45"/><ellipse cx="1330" cy="599" rx="4.79" ry="10.45"/><ellipse cx="1332" cy="737" rx="4.79" ry="10.45"/><ellipse cx="1335" cy="778" rx="4.79" ry="10.45"/><ellipse cx="1337" cy="910" rx="4.79" ry="10.45"/><ellipse cx="1341" cy="943" rx="4.79" ry="10.45"/><ellipse cx="1344" cy="790" rx="4.79" ry="10.45"/><ellipse cx="1347" cy="826" rx="4.79" ry="10.45"/><ellipse cx="1350" cy="927" rx="4.79" ry="10.45"/><ellipse cx="1353" cy="685" rx="4.79" ry="10.45"/><ellipse cx="1356" cy="886" rx="4.79" ry="10.45"/><ellipse cx="1359" cy="927" rx="4.79" ry="10.45"/><ellipse cx="1362" cy="927" rx="4.79" ry="10.45"/><ellipse cx="1365" cy="870" rx="4.79" ry="10.45"/><ellipse cx="1368" cy="780" rx="4.79" ry="10.45"/><ellipse cx="1371" cy="825" rx="4.79" ry="10.45"/><ellipse cx="1374" cy="708" rx="4.79" ry="10.45"/><ellipse cx="1377" cy="927" rx="4.79" ry="10.45"/><ellipse cx="1380" cy="715" rx="4.79" ry="10.45"/><ellipse cx="1383" cy="800" rx="4.79" ry="10.45"/><ellipse cx="1385" cy="782" rx="4.79" ry="10.45"/><ellipse cx="1388" cy="995" rx="4.79" ry="10.45"/><ellipse cx="1391" cy="700" rx="4.79" ry="10.45"/><ellipse cx="1393" cy="838" rx="4.79" ry="10.45"/><ellipse cx="1396" cy="866" rx="4.79" ry="10.45"/><ellipse cx="1399" cy="885" rx="4.79" ry="10.45"/><ellipse cx="1401" cy="793" rx="4.79" ry="10.45"/><ellipse cx="1404" cy="865" rx="4.79" ry="10.45"/><ellipse cx="1406" cy="826" rx="4.79" ry="10.45"/><ellipse cx="1409" cy="660" rx="4.79" ry="10.45"/><ellipse cx="1412" cy="755" rx="4.79" ry="10.45"/><ellipse cx="1415" cy="927" rx="4.79" ry="10.45"/><ellipse cx="1417" cy="1033" rx="4.79" ry="10.45"/><ellipse cx="1419" cy="885" rx="4.79" ry="10.45"/><ellipse cx="1422" cy="927" rx="4.79" ry="10.45"/><ellipse cx="1425" cy="760" rx="4.79" ry="10.45"/><ellipse cx="1428" cy="750" rx="4.79" ry="10.45"/><ellipse cx="1430" cy="600" rx="4.79" ry="10.45"/><ellipse cx="1433" cy="730" rx="4.79" ry="10.45"/><ellipse cx="1436" cy="670" rx="4.79" ry="10.45"/><ellipse cx="1438" cy="750" rx="4.79" ry="10.45"/><ellipse cx="1440" cy="790" rx="4.79" ry="10.45"/><ellipse cx="1443" cy="710" rx="4.79" ry="10.45"/><ellipse cx="1446" cy="918" rx="4.79" ry="10.45"/><ellipse cx="1449" cy="780" rx="4.79" ry="10.45"/><ellipse cx="1451" cy="927" rx="4.79" ry="10.45"/><ellipse cx="1455" cy="695" rx="4.79" ry="10.45"/><ellipse cx="1458" cy="705" rx="4.79" ry="10.45"/><ellipse cx="1461" cy="620" rx="4.79" ry="10.45"/><ellipse cx="1464" cy="755" rx="4.79" ry="10.45"/><ellipse cx="1467" cy="722" rx="4.79" ry="10.45"/><ellipse cx="1470" cy="775" rx="4.79" ry="10.45"/><ellipse cx="1479" cy="675" rx="4.79" ry="10.45"/>
</g>
<path class="c" vector-effect="non-scaling-stroke" d="M206,622 L218,613.5 Q230,605 242.5,598.5 Q255,592 267.5,590 Q280,588 292.5,591.5 Q305,595 317.5,602.5 Q330,610 342.5,620 Q355,630 367.5,642.5 Q380,655 392.5,670 Q405,685 417.5,700 Q430,715 442.5,728.5 Q455,742 467.5,751 Q480,760 492.5,765 Q505,770 519,771 Q533,772 546.5,767.5 Q560,763 575,751.5 Q590,740 605,726 Q620,712 635,698.5 Q650,685 665,672.5 Q680,660 695,651.5 Q710,643 725,638 Q740,633 750,632.5 Q760,632 772.5,634 Q785,636 797.5,640.5 Q810,645 825,653.5 Q840,662 855,672 Q870,682 885,691 Q900,700 915,706 Q930,712 944,714 Q958,716 971.5,713 Q985,710 997.5,705 Q1010,700 1025,690 Q1040,680 1055,666 Q1070,652 1085,638.5 Q1100,625 1115,615 Q1130,605 1142.5,601 Q1155,597 1165,597.5 Q1175,598 1187.5,601.5 Q1200,605 1212.5,613.5 Q1225,622 1237.5,633.5 Q1250,645 1265,662.5 Q1280,680 1295,697.5 Q1310,715 1325,731.5 Q1340,748 1355,760 Q1370,772 1385,777 Q1400,782 1410,782.5 Q1420,783 1432.5,780.5 Q1445,778 1461.5,770.5 L1478,763"/>
</g>

<!-- PANEL 3 dots + curve -->
<g transform="matrix(1.252 0 0 0.574 0 1720)" class="d">
<g>
<ellipse cx="206" cy="816" rx="4.79" ry="10.45"/><ellipse cx="213" cy="290" rx="4.79" ry="10.45"/><ellipse cx="218" cy="378" rx="4.79" ry="10.45"/><ellipse cx="221" cy="433" rx="4.79" ry="10.45"/><ellipse cx="223" cy="421" rx="4.79" ry="10.45"/><ellipse cx="226" cy="488" rx="4.79" ry="10.45"/><ellipse cx="230" cy="682" rx="4.79" ry="10.45"/><ellipse cx="240" cy="545" rx="4.79" ry="10.45"/><ellipse cx="242" cy="770" rx="4.79" ry="10.45"/><ellipse cx="245" cy="542" rx="4.79" ry="10.45"/><ellipse cx="248" cy="357" rx="4.79" ry="10.45"/><ellipse cx="250" cy="178" rx="4.79" ry="10.45"/><ellipse cx="252" cy="345" rx="4.79" ry="10.45"/><ellipse cx="255" cy="162" rx="4.79" ry="10.45"/><ellipse cx="257" cy="662" rx="4.79" ry="10.45"/><ellipse cx="260" cy="95" rx="4.79" ry="10.45"/><ellipse cx="262" cy="232" rx="4.79" ry="10.45"/><ellipse cx="265" cy="325" rx="4.79" ry="10.45"/><ellipse cx="267" cy="510" rx="4.79" ry="10.45"/><ellipse cx="270" cy="254" rx="4.79" ry="10.45"/><ellipse cx="272" cy="494" rx="4.79" ry="10.45"/><ellipse cx="275" cy="466" rx="4.79" ry="10.45"/><ellipse cx="278" cy="384" rx="4.79" ry="10.45"/><ellipse cx="281" cy="242" rx="4.79" ry="10.45"/><ellipse cx="284" cy="74" rx="4.79" ry="10.45"/><ellipse cx="286" cy="332" rx="4.79" ry="10.45"/><ellipse cx="288" cy="180" rx="4.79" ry="10.45"/><ellipse cx="290" cy="345" rx="4.79" ry="10.45"/><ellipse cx="292" cy="245" rx="4.79" ry="10.45"/><ellipse cx="296" cy="274" rx="4.79" ry="10.45"/><ellipse cx="300" cy="550" rx="4.79" ry="10.45"/><ellipse cx="303" cy="466" rx="4.79" ry="10.45"/><ellipse cx="306" cy="455" rx="4.79" ry="10.45"/><ellipse cx="308" cy="172" rx="4.79" ry="10.45"/><ellipse cx="311" cy="640" rx="4.79" ry="10.45"/><ellipse cx="313" cy="520" rx="4.79" ry="10.45"/><ellipse cx="316" cy="277" rx="4.79" ry="10.45"/><ellipse cx="318" cy="268" rx="4.79" ry="10.45"/><ellipse cx="320" cy="300" rx="4.79" ry="10.45"/><ellipse cx="322" cy="640" rx="4.79" ry="10.45"/><ellipse cx="325" cy="327" rx="4.79" ry="10.45"/><ellipse cx="328" cy="318" rx="4.79" ry="10.45"/><ellipse cx="331" cy="378" rx="4.79" ry="10.45"/><ellipse cx="333" cy="375" rx="4.79" ry="10.45"/><ellipse cx="336" cy="290" rx="4.79" ry="10.45"/><ellipse cx="338" cy="82" rx="4.79" ry="10.45"/><ellipse cx="341" cy="402" rx="4.79" ry="10.45"/><ellipse cx="343" cy="323" rx="4.79" ry="10.45"/><ellipse cx="345" cy="552" rx="4.79" ry="10.45"/><ellipse cx="348" cy="745" rx="4.79" ry="10.45"/><ellipse cx="350" cy="805" rx="4.79" ry="10.45"/><ellipse cx="353" cy="765" rx="4.79" ry="10.45"/><ellipse cx="355" cy="865" rx="4.79" ry="10.45"/><ellipse cx="357" cy="738" rx="4.79" ry="10.45"/><ellipse cx="360" cy="580" rx="4.79" ry="10.45"/><ellipse cx="362" cy="470" rx="4.79" ry="10.45"/><ellipse cx="365" cy="640" rx="4.79" ry="10.45"/><ellipse cx="368" cy="487" rx="4.79" ry="10.45"/><ellipse cx="370" cy="595" rx="4.79" ry="10.45"/><ellipse cx="372" cy="600" rx="4.79" ry="10.45"/><ellipse cx="374" cy="432" rx="4.79" ry="10.45"/><ellipse cx="376" cy="497" rx="4.79" ry="10.45"/><ellipse cx="380" cy="675" rx="4.79" ry="10.45"/><ellipse cx="383" cy="776" rx="4.79" ry="10.45"/><ellipse cx="385" cy="735" rx="4.79" ry="10.45"/><ellipse cx="387" cy="773" rx="4.79" ry="10.45"/><ellipse cx="389" cy="938" rx="4.79" ry="10.45"/><ellipse cx="392" cy="690" rx="4.79" ry="10.45"/><ellipse cx="394" cy="688" rx="4.79" ry="10.45"/><ellipse cx="396" cy="548" rx="4.79" ry="10.45"/><ellipse cx="398" cy="732" rx="4.79" ry="10.45"/><ellipse cx="401" cy="608" rx="4.79" ry="10.45"/><ellipse cx="403" cy="680" rx="4.79" ry="10.45"/><ellipse cx="405" cy="670" rx="4.79" ry="10.45"/><ellipse cx="409" cy="415" rx="4.79" ry="10.45"/><ellipse cx="411" cy="435" rx="4.79" ry="10.45"/><ellipse cx="414" cy="590" rx="4.79" ry="10.45"/><ellipse cx="416" cy="662" rx="4.79" ry="10.45"/><ellipse cx="419" cy="486" rx="4.79" ry="10.45"/><ellipse cx="422" cy="610" rx="4.79" ry="10.45"/><ellipse cx="424" cy="612" rx="4.79" ry="10.45"/><ellipse cx="427" cy="725" rx="4.79" ry="10.45"/><ellipse cx="429" cy="605" rx="4.79" ry="10.45"/><ellipse cx="432" cy="857" rx="4.79" ry="10.45"/><ellipse cx="435" cy="797" rx="4.79" ry="10.45"/><ellipse cx="438" cy="1022" rx="4.79" ry="10.45"/><ellipse cx="440" cy="495" rx="4.79" ry="10.45"/><ellipse cx="443" cy="760" rx="4.79" ry="10.45"/><ellipse cx="445" cy="775" rx="4.79" ry="10.45"/><ellipse cx="447" cy="882" rx="4.79" ry="10.45"/><ellipse cx="450" cy="700" rx="4.79" ry="10.45"/><ellipse cx="452" cy="670" rx="4.79" ry="10.45"/><ellipse cx="455" cy="760" rx="4.79" ry="10.45"/><ellipse cx="458" cy="728" rx="4.79" ry="10.45"/><ellipse cx="461" cy="850" rx="4.79" ry="10.45"/><ellipse cx="463" cy="922" rx="4.79" ry="10.45"/><ellipse cx="466" cy="950" rx="4.79" ry="10.45"/><ellipse cx="469" cy="692" rx="4.79" ry="10.45"/><ellipse cx="471" cy="958" rx="4.79" ry="10.45"/><ellipse cx="474" cy="1140" rx="4.79" ry="10.45"/><ellipse cx="476" cy="825" rx="4.79" ry="10.45"/><ellipse cx="478" cy="863" rx="4.79" ry="10.45"/><ellipse cx="480" cy="847" rx="4.79" ry="10.45"/><ellipse cx="482" cy="815" rx="4.79" ry="10.45"/><ellipse cx="484" cy="940" rx="4.79" ry="10.45"/><ellipse cx="486" cy="1040" rx="4.79" ry="10.45"/><ellipse cx="490" cy="785" rx="4.79" ry="10.45"/><ellipse cx="493" cy="780" rx="4.79" ry="10.45"/><ellipse cx="496" cy="906" rx="4.79" ry="10.45"/><ellipse cx="498" cy="585" rx="4.79" ry="10.45"/><ellipse cx="501" cy="595" rx="4.79" ry="10.45"/><ellipse cx="503" cy="775" rx="4.79" ry="10.45"/><ellipse cx="506" cy="548" rx="4.79" ry="10.45"/><ellipse cx="509" cy="695" rx="4.79" ry="10.45"/>
<ellipse cx="838" cy="720" rx="4.79" ry="10.45"/><ellipse cx="841" cy="740" rx="4.79" ry="10.45"/><ellipse cx="845" cy="810" rx="4.79" ry="10.45"/><ellipse cx="847" cy="688" rx="4.79" ry="10.45"/><ellipse cx="850" cy="690" rx="4.79" ry="10.45"/><ellipse cx="852" cy="770" rx="4.79" ry="10.45"/><ellipse cx="855" cy="760" rx="4.79" ry="10.45"/><ellipse cx="858" cy="800" rx="4.79" ry="10.45"/><ellipse cx="861" cy="670" rx="4.79" ry="10.45"/><ellipse cx="863" cy="650" rx="4.79" ry="10.45"/><ellipse cx="866" cy="640" rx="4.79" ry="10.45"/><ellipse cx="868" cy="635" rx="4.79" ry="10.45"/><ellipse cx="872" cy="750" rx="4.79" ry="10.45"/><ellipse cx="875" cy="660" rx="4.79" ry="10.45"/><ellipse cx="878" cy="855" rx="4.79" ry="10.45"/><ellipse cx="880" cy="740" rx="4.79" ry="10.45"/><ellipse cx="882" cy="690" rx="4.79" ry="10.45"/><ellipse cx="885" cy="810" rx="4.79" ry="10.45"/><ellipse cx="887" cy="930" rx="4.79" ry="10.45"/><ellipse cx="889" cy="818" rx="4.79" ry="10.45"/><ellipse cx="891" cy="825" rx="4.79" ry="10.45"/><ellipse cx="894" cy="818" rx="4.79" ry="10.45"/><ellipse cx="897" cy="895" rx="4.79" ry="10.45"/><ellipse cx="900" cy="950" rx="4.79" ry="10.45"/><ellipse cx="903" cy="900" rx="4.79" ry="10.45"/><ellipse cx="905" cy="835" rx="4.79" ry="10.45"/><ellipse cx="907" cy="850" rx="4.79" ry="10.45"/><ellipse cx="909" cy="905" rx="4.79" ry="10.45"/><ellipse cx="911" cy="830" rx="4.79" ry="10.45"/><ellipse cx="914" cy="775" rx="4.79" ry="10.45"/><ellipse cx="917" cy="722" rx="4.79" ry="10.45"/><ellipse cx="919" cy="612" rx="4.79" ry="10.45"/><ellipse cx="922" cy="928" rx="4.79" ry="10.45"/><ellipse cx="924" cy="822" rx="4.79" ry="10.45"/><ellipse cx="927" cy="808" rx="4.79" ry="10.45"/><ellipse cx="930" cy="845" rx="4.79" ry="10.45"/><ellipse cx="932" cy="797" rx="4.79" ry="10.45"/><ellipse cx="934" cy="608" rx="4.79" ry="10.45"/><ellipse cx="936" cy="870" rx="4.79" ry="10.45"/><ellipse cx="938" cy="880" rx="4.79" ry="10.45"/><ellipse cx="941" cy="1027" rx="4.79" ry="10.45"/><ellipse cx="943" cy="730" rx="4.79" ry="10.45"/><ellipse cx="945" cy="772" rx="4.79" ry="10.45"/><ellipse cx="948" cy="805" rx="4.79" ry="10.45"/><ellipse cx="950" cy="528" rx="4.79" ry="10.45"/><ellipse cx="953" cy="655" rx="4.79" ry="10.45"/><ellipse cx="955" cy="760" rx="4.79" ry="10.45"/><ellipse cx="957" cy="700" rx="4.79" ry="10.45"/><ellipse cx="960" cy="655" rx="4.79" ry="10.45"/><ellipse cx="963" cy="690" rx="4.79" ry="10.45"/><ellipse cx="965" cy="742" rx="4.79" ry="10.45"/><ellipse cx="967" cy="887" rx="4.79" ry="10.45"/><ellipse cx="970" cy="832" rx="4.79" ry="10.45"/><ellipse cx="973" cy="616" rx="4.79" ry="10.45"/><ellipse cx="975" cy="758" rx="4.79" ry="10.45"/><ellipse cx="977" cy="650" rx="4.79" ry="10.45"/><ellipse cx="980" cy="650" rx="4.79" ry="10.45"/><ellipse cx="983" cy="765" rx="4.79" ry="10.45"/><ellipse cx="986" cy="760" rx="4.79" ry="10.45"/><ellipse cx="989" cy="832" rx="4.79" ry="10.45"/><ellipse cx="992" cy="750" rx="4.79" ry="10.45"/><ellipse cx="995" cy="812" rx="4.79" ry="10.45"/><ellipse cx="997" cy="675" rx="4.79" ry="10.45"/><ellipse cx="999" cy="482" rx="4.79" ry="10.45"/><ellipse cx="1001" cy="680" rx="4.79" ry="10.45"/><ellipse cx="1004" cy="785" rx="4.79" ry="10.45"/><ellipse cx="1006" cy="827" rx="4.79" ry="10.45"/><ellipse cx="1008" cy="707" rx="4.79" ry="10.45"/><ellipse cx="1011" cy="642" rx="4.79" ry="10.45"/><ellipse cx="1013" cy="637" rx="4.79" ry="10.45"/><ellipse cx="1016" cy="625" rx="4.79" ry="10.45"/><ellipse cx="1018" cy="822" rx="4.79" ry="10.45"/><ellipse cx="1020" cy="688" rx="4.79" ry="10.45"/><ellipse cx="1023" cy="580" rx="4.79" ry="10.45"/><ellipse cx="1026" cy="768" rx="4.79" ry="10.45"/><ellipse cx="1029" cy="470" rx="4.79" ry="10.45"/><ellipse cx="1032" cy="630" rx="4.79" ry="10.45"/><ellipse cx="1034" cy="400" rx="4.79" ry="10.45"/><ellipse cx="1037" cy="458" rx="4.79" ry="10.45"/><ellipse cx="1039" cy="238" rx="4.79" ry="10.45"/><ellipse cx="1042" cy="513" rx="4.79" ry="10.45"/><ellipse cx="1044" cy="420" rx="4.79" ry="10.45"/><ellipse cx="1047" cy="333" rx="4.79" ry="10.45"/><ellipse cx="1050" cy="353" rx="4.79" ry="10.45"/><ellipse cx="1052" cy="284" rx="4.79" ry="10.45"/><ellipse cx="1055" cy="248" rx="4.79" ry="10.45"/><ellipse cx="1058" cy="935" rx="4.79" ry="10.45"/><ellipse cx="1060" cy="560" rx="4.79" ry="10.45"/><ellipse cx="1063" cy="423" rx="4.79" ry="10.45"/><ellipse cx="1066" cy="500" rx="4.79" ry="10.45"/><ellipse cx="1068" cy="425" rx="4.79" ry="10.45"/><ellipse cx="1071" cy="155" rx="4.79" ry="10.45"/><ellipse cx="1073" cy="115" rx="4.79" ry="10.45"/><ellipse cx="1076" cy="372" rx="4.79" ry="10.45"/><ellipse cx="1078" cy="378" rx="4.79" ry="10.45"/><ellipse cx="1080" cy="452" rx="4.79" ry="10.45"/><ellipse cx="1083" cy="470" rx="4.79" ry="10.45"/><ellipse cx="1086" cy="155" rx="4.79" ry="10.45"/><ellipse cx="1089" cy="245" rx="4.79" ry="10.45"/><ellipse cx="1091" cy="483" rx="4.79" ry="10.45"/><ellipse cx="1093" cy="658" rx="4.79" ry="10.45"/><ellipse cx="1096" cy="255" rx="4.79" ry="10.45"/><ellipse cx="1098" cy="438" rx="4.79" ry="10.45"/><ellipse cx="1101" cy="398" rx="4.79" ry="10.45"/><ellipse cx="1103" cy="285" rx="4.79" ry="10.45"/><ellipse cx="1106" cy="400" rx="4.79" ry="10.45"/><ellipse cx="1108" cy="405" rx="4.79" ry="10.45"/><ellipse cx="1111" cy="490" rx="4.79" ry="10.45"/><ellipse cx="1113" cy="540" rx="4.79" ry="10.45"/><ellipse cx="1116" cy="520" rx="4.79" ry="10.45"/><ellipse cx="1118" cy="512" rx="4.79" ry="10.45"/><ellipse cx="1120" cy="440" rx="4.79" ry="10.45"/><ellipse cx="1123" cy="448" rx="4.79" ry="10.45"/><ellipse cx="1126" cy="533" rx="4.79" ry="10.45"/><ellipse cx="1129" cy="465" rx="4.79" ry="10.45"/><ellipse cx="1131" cy="440" rx="4.79" ry="10.45"/><ellipse cx="1134" cy="490" rx="4.79" ry="10.45"/><ellipse cx="1137" cy="318" rx="4.79" ry="10.45"/><ellipse cx="1139" cy="350" rx="4.79" ry="10.45"/><ellipse cx="1142" cy="298" rx="4.79" ry="10.45"/><ellipse cx="1145" cy="410" rx="4.79" ry="10.45"/><ellipse cx="1148" cy="342" rx="4.79" ry="10.45"/><ellipse cx="1151" cy="455" rx="4.79" ry="10.45"/><ellipse cx="1154" cy="200" rx="4.79" ry="10.45"/><ellipse cx="1157" cy="312" rx="4.79" ry="10.45"/><ellipse cx="1160" cy="465" rx="4.79" ry="10.45"/><ellipse cx="1163" cy="398" rx="4.79" ry="10.45"/><ellipse cx="1166" cy="425" rx="4.79" ry="10.45"/><ellipse cx="1168" cy="455" rx="4.79" ry="10.45"/><ellipse cx="1171" cy="380" rx="4.79" ry="10.45"/><ellipse cx="1173" cy="345" rx="4.79" ry="10.45"/><ellipse cx="1176" cy="565" rx="4.79" ry="10.45"/><ellipse cx="1180" cy="310" rx="4.79" ry="10.45"/><ellipse cx="1182" cy="230" rx="4.79" ry="10.45"/><ellipse cx="1185" cy="445" rx="4.79" ry="10.45"/><ellipse cx="1188" cy="350" rx="4.79" ry="10.45"/><ellipse cx="1190" cy="468" rx="4.79" ry="10.45"/><ellipse cx="1193" cy="530" rx="4.79" ry="10.45"/><ellipse cx="1195" cy="320" rx="4.79" ry="10.45"/><ellipse cx="1198" cy="335" rx="4.79" ry="10.45"/><ellipse cx="1201" cy="365" rx="4.79" ry="10.45"/><ellipse cx="1203" cy="298" rx="4.79" ry="10.45"/><ellipse cx="1206" cy="400" rx="4.79" ry="10.45"/><ellipse cx="1208" cy="460" rx="4.79" ry="10.45"/><ellipse cx="1211" cy="565" rx="4.79" ry="10.45"/><ellipse cx="1213" cy="575" rx="4.79" ry="10.45"/><ellipse cx="1216" cy="545" rx="4.79" ry="10.45"/><ellipse cx="1218" cy="755" rx="4.79" ry="10.45"/><ellipse cx="1221" cy="800" rx="4.79" ry="10.45"/><ellipse cx="1223" cy="760" rx="4.79" ry="10.45"/><ellipse cx="1226" cy="672" rx="4.79" ry="10.45"/><ellipse cx="1228" cy="560" rx="4.79" ry="10.45"/><ellipse cx="1231" cy="590" rx="4.79" ry="10.45"/><ellipse cx="1234" cy="520" rx="4.79" ry="10.45"/><ellipse cx="1237" cy="590" rx="4.79" ry="10.45"/><ellipse cx="1240" cy="720" rx="4.79" ry="10.45"/><ellipse cx="1242" cy="585" rx="4.79" ry="10.45"/><ellipse cx="1245" cy="590" rx="4.79" ry="10.45"/><ellipse cx="1248" cy="645" rx="4.79" ry="10.45"/><ellipse cx="1250" cy="698" rx="4.79" ry="10.45"/><ellipse cx="1253" cy="590" rx="4.79" ry="10.45"/><ellipse cx="1256" cy="580" rx="4.79" ry="10.45"/><ellipse cx="1259" cy="515" rx="4.79" ry="10.45"/><ellipse cx="1262" cy="705" rx="4.79" ry="10.45"/><ellipse cx="1264" cy="665" rx="4.79" ry="10.45"/><ellipse cx="1267" cy="610" rx="4.79" ry="10.45"/><ellipse cx="1270" cy="740" rx="4.79" ry="10.45"/><ellipse cx="1273" cy="735" rx="4.79" ry="10.45"/><ellipse cx="1276" cy="690" rx="4.79" ry="10.45"/><ellipse cx="1279" cy="708" rx="4.79" ry="10.45"/><ellipse cx="1282" cy="738" rx="4.79" ry="10.45"/><ellipse cx="1284" cy="768" rx="4.79" ry="10.45"/><ellipse cx="1287" cy="615" rx="4.79" ry="10.45"/><ellipse cx="1290" cy="545" rx="4.79" ry="10.45"/><ellipse cx="1294" cy="700" rx="4.79" ry="10.45"/><ellipse cx="1297" cy="825" rx="4.79" ry="10.45"/><ellipse cx="1300" cy="745" rx="4.79" ry="10.45"/><ellipse cx="1303" cy="785" rx="4.79" ry="10.45"/><ellipse cx="1305" cy="825" rx="4.79" ry="10.45"/><ellipse cx="1308" cy="812" rx="4.79" ry="10.45"/><ellipse cx="1311" cy="825" rx="4.79" ry="10.45"/><ellipse cx="1314" cy="685" rx="4.79" ry="10.45"/><ellipse cx="1317" cy="595" rx="4.79" ry="10.45"/><ellipse cx="1320" cy="690" rx="4.79" ry="10.45"/><ellipse cx="1323" cy="730" rx="4.79" ry="10.45"/><ellipse cx="1326" cy="555" rx="4.79" ry="10.45"/><ellipse cx="1329" cy="625" rx="4.79" ry="10.45"/><ellipse cx="1332" cy="600" rx="4.79" ry="10.45"/><ellipse cx="1335" cy="595" rx="4.79" ry="10.45"/><ellipse cx="1338" cy="830" rx="4.79" ry="10.45"/><ellipse cx="1341" cy="630" rx="4.79" ry="10.45"/><ellipse cx="1344" cy="660" rx="4.79" ry="10.45"/><ellipse cx="1347" cy="720" rx="4.79" ry="10.45"/><ellipse cx="1350" cy="655" rx="4.79" ry="10.45"/><ellipse cx="1354" cy="780" rx="4.79" ry="10.45"/><ellipse cx="1357" cy="790" rx="4.79" ry="10.45"/><ellipse cx="1360" cy="665" rx="4.79" ry="10.45"/><ellipse cx="1363" cy="855" rx="4.79" ry="10.45"/><ellipse cx="1366" cy="815" rx="4.79" ry="10.45"/><ellipse cx="1369" cy="880" rx="4.79" ry="10.45"/><ellipse cx="1372" cy="755" rx="4.79" ry="10.45"/><ellipse cx="1375" cy="772" rx="4.79" ry="10.45"/><ellipse cx="1378" cy="725" rx="4.79" ry="10.45"/><ellipse cx="1381" cy="628" rx="4.79" ry="10.45"/><ellipse cx="1384" cy="740" rx="4.79" ry="10.45"/><ellipse cx="1388" cy="692" rx="4.79" ry="10.45"/><ellipse cx="1390" cy="703" rx="4.79" ry="10.45"/><ellipse cx="1393" cy="828" rx="4.79" ry="10.45"/><ellipse cx="1395" cy="680" rx="4.79" ry="10.45"/><ellipse cx="1398" cy="590" rx="4.79" ry="10.45"/><ellipse cx="1401" cy="620" rx="4.79" ry="10.45"/><ellipse cx="1404" cy="666" rx="4.79" ry="10.45"/><ellipse cx="1406" cy="495" rx="4.79" ry="10.45"/><ellipse cx="1408" cy="648" rx="4.79" ry="10.45"/><ellipse cx="1411" cy="675" rx="4.79" ry="10.45"/><ellipse cx="1413" cy="545" rx="4.79" ry="10.45"/><ellipse cx="1415" cy="580" rx="4.79" ry="10.45"/><ellipse cx="1417" cy="438" rx="4.79" ry="10.45"/><ellipse cx="1420" cy="740" rx="4.79" ry="10.45"/><ellipse cx="1422" cy="845" rx="4.79" ry="10.45"/><ellipse cx="1425" cy="745" rx="4.79" ry="10.45"/><ellipse cx="1427" cy="815" rx="4.79" ry="10.45"/><ellipse cx="1430" cy="628" rx="4.79" ry="10.45"/><ellipse cx="1433" cy="728" rx="4.79" ry="10.45"/><ellipse cx="1436" cy="750" rx="4.79" ry="10.45"/><ellipse cx="1439" cy="610" rx="4.79" ry="10.45"/><ellipse cx="1441" cy="655" rx="4.79" ry="10.45"/><ellipse cx="1444" cy="655" rx="4.79" ry="10.45"/><ellipse cx="1447" cy="718" rx="4.79" ry="10.45"/><ellipse cx="1450" cy="830" rx="4.79" ry="10.45"/><ellipse cx="1452" cy="765" rx="4.79" ry="10.45"/><ellipse cx="1455" cy="785" rx="4.79" ry="10.45"/><ellipse cx="1458" cy="785" rx="4.79" ry="10.45"/><ellipse cx="1460" cy="920" rx="4.79" ry="10.45"/><ellipse cx="1463" cy="878" rx="4.79" ry="10.45"/><ellipse cx="1466" cy="715" rx="4.79" ry="10.45"/><ellipse cx="1469" cy="790" rx="4.79" ry="10.45"/><ellipse cx="1472" cy="655" rx="4.79" ry="10.45"/><ellipse cx="1479" cy="675" rx="4.79" ry="10.45"/>
</g>
<path class="c" vector-effect="non-scaling-stroke" d="M206,470 L215.5,461.5 Q225,453 236.5,450 Q248,447 259,451 Q270,455 280,465 Q290,475 300,490 Q310,505 320,522.5 Q330,540 340,560 Q350,580 360,600 Q370,620 380,640 Q390,660 400,677.5 Q410,695 420,709 Q430,723 442.5,735.5 Q455,748 470,752.5 Q485,757 497.5,753.5 Q510,750 522.5,740 Q535,730 547.5,716.5 Q560,703 575,684 Q590,665 605,645 Q620,625 635,608.5 Q650,592 665,583.5 Q680,575 690,575 Q700,575 710,580 Q720,585 732.5,595 Q745,605 757.5,620 Q770,635 785,655 Q800,675 815,695 Q830,715 842.5,730 Q855,745 867.5,753.5 Q880,762 890,763.5 Q900,765 912.5,760 Q925,755 937.5,741.5 Q950,728 962.5,709 Q975,690 987.5,662.5 Q1000,635 1010,610 Q1020,585 1030,560 Q1040,535 1050,515 Q1060,495 1070,480 Q1080,465 1090,454 Q1100,443 1110,437.5 Q1120,432 1130,431 Q1140,430 1150,433.5 Q1160,437 1170,446 Q1180,455 1190,467.5 Q1200,480 1210,496 Q1220,512 1232.5,533.5 Q1245,555 1257.5,580 Q1270,605 1282.5,627.5 Q1295,650 1307.5,670 Q1320,690 1332.5,705 Q1345,720 1357.5,729 Q1370,738 1377.5,739 Q1385,740 1397.5,737.5 Q1410,735 1422.5,725 Q1435,715 1447.5,700 Q1460,685 1469,667.5 L1478,650"/>
</g>

<!-- FRAMES -->
<g fill="none" stroke="#000" stroke-width="5.5">
<rect x="227" y="118.5" width="1656.5" height="637.2"/>
<rect x="227" y="934" width="1656.5" height="637"/>
<rect x="227" y="1750" width="1656.5" height="637.5"/>
<rect x="227" y="2617" width="1656.5" height="153" stroke-width="6"/>
</g>

<!-- TICKS -->
<g stroke="#000" stroke-width="2" fill="none">
<path d="M322.4,108V116M434.3,108V116M546.2,108V116M658.1,108V116M770,100V116M881.9,108V116M993.8,108V116M1105.7,108V116M1217.6,108V116M1329.5,100V116M1441.4,108V116M1553.3,108V116M1665.2,108V116M1777.1,108V116"/>
<path d="M322.4,758V766M434.3,758V766M546.2,758V766M658.1,758V766M770,758V774M881.9,758V766M993.8,758V766M1105.7,758V766M1217.6,758V766M1329.5,758V774M1441.4,758V766M1553.3,758V766M1665.2,758V766M1777.1,758V766"/>
<path d="M207,133H225M207,273.5H225M207,414H225M207,554.5H225M207,695H225M1886,133H1903M1886,273.5H1903M1886,414H1903M1886,554.5H1903M1886,695H1903"/>
<path d="M322.4,923.5V931.5M434.3,923.5V931.5M546.2,923.5V931.5M658.1,923.5V931.5M770,915.5V931.5M881.9,923.5V931.5M993.8,923.5V931.5M1105.7,923.5V931.5M1217.6,923.5V931.5M1329.5,915.5V931.5M1441.4,923.5V931.5M1553.3,923.5V931.5M1665.2,923.5V931.5M1777.1,923.5V931.5"/>
<path d="M322.4,1573.5V1581.5M434.3,1573.5V1581.5M546.2,1573.5V1581.5M658.1,1573.5V1581.5M770,1573.5V1589.5M881.9,1573.5V1581.5M993.8,1573.5V1581.5M1105.7,1573.5V1581.5M1217.6,1573.5V1581.5M1329.5,1573.5V1589.5M1441.4,1573.5V1581.5M1553.3,1573.5V1581.5M1665.2,1573.5V1581.5M1777.1,1573.5V1581.5"/>
<path d="M207,963.1H225M207,1072.2H225M207,1181.2H225M207,1290.3H225M207,1399.4H225M207,1508.4H225M1886,963.1H1903M1886,1072.2H1903M1886,1181.2H1903M1886,1290.3H1903M1886,1399.4H1903M1886,1508.4H1903"/>
<path d="M322.4,1739.5V1747.5M434.3,1739.5V1747.5M546.2,1739.5V1747.5M658.1,1739.5V1747.5M770,1731.5V1747.5M881.9,1739.5V1747.5M993.8,1739.5V1747.5M1105.7,1739.5V1747.5M1217.6,1739.5V1747.5M1329.5,1731.5V1747.5M1441.4,1739.5V1747.5M1553.3,1739.5V1747.5M1665.2,1739.5V1747.5M1777.1,1739.5V1747.5"/>
<path d="M322.4,2390V2398M434.3,2390V2398M546.2,2390V2398M658.1,2390V2398M770,2390V2406M881.9,2390V2398M993.8,2390V2398M1105.7,2390V2398M1217.6,2390V2398M1329.5,2390V2406M1441.4,2390V2398M1553.3,2390V2398M1665.2,2390V2398M1777.1,2390V2398"/>
<path d="M207,1834.2H225M207,1963.1H225M207,2092H225M207,2220.9H225M207,2349.8H225M1886,1834.2H1903M1886,1963.1H1903M1886,2092H1903M1886,2220.9H1903M1886,2349.8H1903"/>
</g>

<!-- TICK LABELS -->
<g class="b" font-size="42" text-anchor="end">
<text x="190" y="148.5">6</text><text x="190" y="289">3</text><text x="190" y="429.5">0</text><text x="190" y="570">−3</text><text x="190" y="710.5">−6</text>
<text x="190" y="978.6">6</text><text x="190" y="1087.7">4</text><text x="190" y="1196.7">2</text><text x="190" y="1305.8">0</text><text x="190" y="1414.9">−2</text><text x="190" y="1523.9">−4</text>
<text x="190" y="1849.7">18</text><text x="190" y="1978.6">9</text><text x="190" y="2107.5">0</text><text x="190" y="2236.4">−9</text><text x="190" y="2365.3">−18</text>
</g>
<g class="b" font-size="42" text-anchor="middle">
<text x="770" y="822">2025.0</text><text x="1329.5" y="822">2025.5</text>
<text x="770" y="1637.5">2025.0</text><text x="1329.5" y="1637.5">2025.5</text>
<text x="770" y="2454">2025.0</text><text x="1329.5" y="2454">2025.5</text>
</g>

<!-- RATES -->
<g class="b" font-size="35.5" text-anchor="end">
<text x="1816" y="160.7">-0.047+/- 1.029 mm/yr</text>
<text x="1816" y="976.2">-0.105+/- 1.241 mm/yr</text>
<text x="1816" y="2373">0.762+/- 3.322 mm/yr</text>
</g>

<!-- AXIS LABELS -->
<g font-size="42" text-anchor="middle">
<text transform="translate(112,437) rotate(-90)">East (mm)</text>
<text transform="translate(112,1252.5) rotate(-90)">North (mm)</text>
<text transform="translate(90,2068.5) rotate(-90)">Up (mm)</text>
<text x="1054" y="2512">Time (year)</text>
</g>

<!-- FOOTER -->
<g class="b" font-size="35.5" text-anchor="middle">
<text x="1055" y="2664.3">24 Hour Positions Using Final Orbits (blue) and Rapid Orbits (magenta).</text>
<text x="1055" y="2703.3">Processed by the Nevada Geodetic Laboratory.</text>
<text x="1055" y="2742.3">Plotted on 2026-Jan-9. Last data on 2025-Dec-20.</text>
</g>
</svg>
</body></html>
